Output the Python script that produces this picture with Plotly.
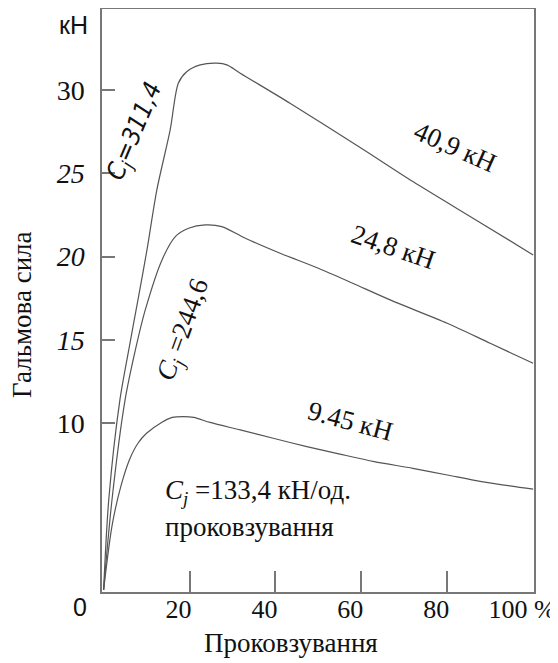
import plotly.graph_objects as go

# ---- data ----
slip_311 = [0, 1.2, 3.8, 6.0, 8.0, 10.1, 12.4, 15.5, 17.4, 19.4, 22.5, 26.4, 28.7, 31.8, 43.4, 60, 72, 86, 100]
force_311 = [0, 5.4, 11.4, 14.6, 17.4, 20.4, 24.0, 27.6, 30.4, 31.1, 31.5, 31.6, 31.5, 31.0, 29.2, 26.5, 24.5, 22.3, 20.1]

slip_244 = [0, 1.95, 5.0, 7.4, 9.7, 13.6, 16.7, 19.8, 23.7, 27.5, 33, 41.1, 50, 58, 66.7, 80, 90, 100]
force_244 = [0, 5.4, 11.4, 14.4, 16.8, 19.8, 21.2, 21.7, 21.9, 21.8, 21.1, 20.2, 19.3, 18.4, 17.4, 16.0, 14.8, 13.6]

slip_133 = [0, 2, 4, 6, 8, 10, 13.5, 16, 18.6, 21, 24.8, 31.8, 39.5, 47.3, 55, 63, 72, 80, 88, 100]
force_133 = [0, 3.9, 6.2, 7.8, 8.8, 9.4, 10.05, 10.35, 10.4, 10.35, 10.05, 9.6, 9.1, 8.6, 8.15, 7.7, 7.3, 6.9, 6.5, 6.05]

x_ticks = [20, 40, 60, 80, 100]
x_ticktext = ["20", "40", "60", "80", "100 %"]
y_ticks = [10, 15, 20, 25, 30]
y_ticktext = ["10", "<i>15</i>", "<i>20</i>", "<i>25</i>", "30"]

SERIF = "Liberation Serif"
SANS = "Liberation Sans"
NARROW = "Liberation Sans Narrow, DejaVu Sans Condensed, sans-serif"
LINE = "#555555"
AX = "#777777"

OFF = 8  # page body margin
W, H = 550, 655
L, R, T, B = 94, 24, 1, 71

fig = go.Figure()
for xs, ys in [(slip_311, force_311), (slip_244, force_244), (slip_133, force_133)]:
    fig.add_trace(go.Scatter(x=xs, y=ys, mode="lines",
                             line=dict(color=LINE, width=1.2, shape="spline", smoothing=0.8),
                             showlegend=False, hoverinfo="skip"))

ann = []
def px(xp):
    return (xp - OFF - L) / (W - L - R)
def py(yp):
    return (H - B - (yp - OFF)) / (H - T - B)

def A(text, xp, yp, size=27, font=SERIF, angle=0, xanchor="center"):
    ann.append(dict(text=text, x=px(xp), y=py(yp), xref="paper", yref="paper", showarrow=False,
                    xanchor=xanchor, yanchor="middle",
                    textangle=angle, font=dict(family=font, size=size, color="#111")))

A("кН", 73, 25, size=25, font=SANS)
A("0", 80, 607, size=25, font=SANS)
A("Проковзування", 291, 643)
A("Гальмова сила", 22, 315, angle=-90)
A("<i>C<sub>j</sub>=311,4</i>", 135, 132, size=25, font=NARROW, angle=-67)
A("<i>C<sub>j</sub></i> =244,6", 184, 330, angle=-70)
A("40,9 кН", 455, 147, angle=24)
A("24,8 кН", 393, 247, angle=19)
A("9.45 кН", 350, 421, angle=15)
A("<i>C<sub>j</sub></i> =133,4 кН/од.", 163, 492, xanchor="left")
A("проковзування", 163, 527, xanchor="left")

fig.update_layout(
    width=W, height=H,
    margin=dict(l=L, r=R, t=T, b=B),
    paper_bgcolor="white", plot_bgcolor="white",
    font=dict(family=SERIF, color="#111"),
    annotations=ann,
    xaxis=dict(range=[-0.37, 100.2], showgrid=False, zeroline=False, automargin=False,
               showline=True, mirror=True, linecolor=AX, linewidth=1.5,
               ticks="inside", ticklen=21, tickcolor=AX, tickwidth=1.5,
               tickvals=x_ticks, ticktext=x_ticktext,
               tickfont=dict(family=SERIF, size=26, color="#111"),
               ticklabelshift=-11, ticklabelstandoff=-7, ticklabeloverflow="allow"),
    yaxis=dict(range=[-0.12, 34.85], showgrid=False, zeroline=False, automargin=False,
               showline=True, mirror=True, linecolor=AX, linewidth=1.5,
               ticks="inside", ticklen=13, tickcolor=AX, tickwidth=1.5,
               tickvals=y_ticks, ticktext=y_ticktext,
               tickfont=dict(family=SERIF, size=28, color="#111"),
               ticklabelstandoff=10, ticklabeloverflow="allow"),
)

fig.write_html("out.html")
